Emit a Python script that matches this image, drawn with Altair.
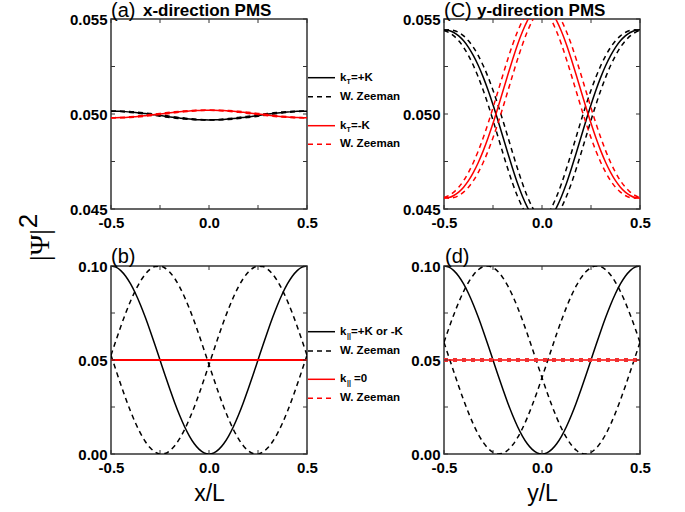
import altair as alt
import pandas as pd

# ---------------- data ----------------
X = [-0.5, -0.475, -0.45, -0.425, -0.4, -0.375, -0.35, -0.325, -0.3, -0.275,
     -0.25, -0.225, -0.2, -0.175, -0.15, -0.125, -0.1, -0.075, -0.05, -0.025,
     0.0, 0.025, 0.05, 0.075, 0.1, 0.125, 0.15, 0.175, 0.2, 0.225,
     0.25, 0.275, 0.3, 0.325, 0.35, 0.375, 0.4, 0.425, 0.45, 0.475, 0.5]
XE = [-0.5, 0.5]

XT = [-0.5, -0.25, 0.0, 0.25, 0.5]
XL = [-0.5, 0.0, 0.5]
YT_TOP = [0.045, 0.0475, 0.05, 0.0525, 0.055]
YL_TOP = [0.045, 0.05, 0.055]
YT_BOT = [0.0, 0.025, 0.05, 0.075, 0.1]
YL_BOT = [0.0, 0.05, 0.1]

# (a) x-direction PMS
a_black = [0.050150, 0.050147, 0.050139, 0.050125, 0.050106, 0.050083, 0.050055, 0.050024, 0.049991, 0.049956,
           0.049920, 0.049884, 0.049849, 0.049816, 0.049785, 0.049757, 0.049734, 0.049715, 0.049701, 0.049693,
           0.049690, 0.049693, 0.049701, 0.049715, 0.049734, 0.049757, 0.049785, 0.049816, 0.049849, 0.049884,
           0.049920, 0.049956, 0.049991, 0.050024, 0.050055, 0.050083, 0.050106, 0.050125, 0.050139, 0.050147, 0.050150]
a_black_z1 = [0.050147, 0.050139, 0.050125, 0.050106, 0.050083, 0.050055, 0.050024, 0.049991, 0.049956, 0.049920,
              0.049884, 0.049849, 0.049816, 0.049785, 0.049757, 0.049734, 0.049715, 0.049701, 0.049693, 0.049690,
              0.049693, 0.049701, 0.049715, 0.049734, 0.049757, 0.049785, 0.049816, 0.049849, 0.049884, 0.049920,
              0.049956, 0.049991, 0.050024, 0.050055, 0.050083, 0.050106, 0.050125, 0.050139, 0.050147, 0.050150, 0.050147]
a_black_z2 = [0.050147, 0.050150, 0.050147, 0.050139, 0.050125, 0.050106, 0.050083, 0.050055, 0.050024, 0.049991,
              0.049956, 0.049920, 0.049884, 0.049849, 0.049816, 0.049785, 0.049757, 0.049734, 0.049715, 0.049701,
              0.049693, 0.049690, 0.049693, 0.049701, 0.049715, 0.049734, 0.049757, 0.049785, 0.049816, 0.049849,
              0.049884, 0.049920, 0.049956, 0.049991, 0.050024, 0.050055, 0.050083, 0.050106, 0.050125, 0.050139, 0.050147]
a_red = [0.049800, 0.049802, 0.049810, 0.049822, 0.049838, 0.049859, 0.049882, 0.049909, 0.049938, 0.049969,
         0.050000, 0.050031, 0.050062, 0.050091, 0.050118, 0.050141, 0.050162, 0.050178, 0.050190, 0.050198,
         0.050200, 0.050198, 0.050190, 0.050178, 0.050162, 0.050141, 0.050118, 0.050091, 0.050062, 0.050031,
         0.050000, 0.049969, 0.049938, 0.049909, 0.049882, 0.049859, 0.049838, 0.049822, 0.049810, 0.049802, 0.049800]
a_red_z1 = [0.049802, 0.049810, 0.049822, 0.049838, 0.049859, 0.049882, 0.049909, 0.049938, 0.049969, 0.050000,
            0.050031, 0.050062, 0.050091, 0.050118, 0.050141, 0.050162, 0.050178, 0.050190, 0.050198, 0.050200,
            0.050198, 0.050190, 0.050178, 0.050162, 0.050141, 0.050118, 0.050091, 0.050062, 0.050031, 0.050000,
            0.049969, 0.049938, 0.049909, 0.049882, 0.049859, 0.049838, 0.049822, 0.049810, 0.049802, 0.049800, 0.049802]
a_red_z2 = [0.049802, 0.049800, 0.049802, 0.049810, 0.049822, 0.049838, 0.049859, 0.049882, 0.049909, 0.049938,
            0.049969, 0.050000, 0.050031, 0.050062, 0.050091, 0.050118, 0.050141, 0.050162, 0.050178, 0.050190,
            0.050198, 0.050200, 0.050198, 0.050190, 0.050178, 0.050162, 0.050141, 0.050118, 0.050091, 0.050062,
            0.050031, 0.050000, 0.049969, 0.049938, 0.049909, 0.049882, 0.049859, 0.049838, 0.049822, 0.049810, 0.049802]

# (c) y-direction PMS
c_black = [0.05443, 0.05440, 0.05429, 0.05411, 0.05385, 0.05351, 0.05307, 0.05255, 0.05194, 0.05125,
           0.05049, 0.04967, 0.04882, 0.04796, 0.04713, 0.04635, 0.04567, 0.04510, 0.04467, 0.04441,
           0.04432, 0.04441, 0.04467, 0.04510, 0.04567, 0.04635, 0.04713, 0.04796, 0.04882, 0.04967,
           0.05049, 0.05125, 0.05194, 0.05255, 0.05307, 0.05351, 0.05385, 0.05411, 0.05429, 0.05440, 0.05443]
c_black_z1 = [0.05440, 0.05429, 0.05411, 0.05385, 0.05351, 0.05307, 0.05255, 0.05194, 0.05125, 0.05049,
              0.04967, 0.04882, 0.04796, 0.04713, 0.04635, 0.04567, 0.04510, 0.04467, 0.04441, 0.04432,
              0.04441, 0.04467, 0.04510, 0.04567, 0.04635, 0.04713, 0.04796, 0.04882, 0.04967, 0.05049,
              0.05125, 0.05194, 0.05255, 0.05307, 0.05351, 0.05385, 0.05411, 0.05429, 0.05440, 0.05443, 0.05440]
c_black_z2 = [0.05440, 0.05443, 0.05440, 0.05429, 0.05411, 0.05385, 0.05351, 0.05307, 0.05255, 0.05194,
              0.05125, 0.05049, 0.04967, 0.04882, 0.04796, 0.04713, 0.04635, 0.04567, 0.04510, 0.04467,
              0.04441, 0.04432, 0.04441, 0.04467, 0.04510, 0.04567, 0.04635, 0.04713, 0.04796, 0.04882,
              0.04967, 0.05049, 0.05125, 0.05194, 0.05255, 0.05307, 0.05351, 0.05385, 0.05411, 0.05429, 0.05440]
c_red = [0.04557, 0.04560, 0.04571, 0.04589, 0.04615, 0.04649, 0.04693, 0.04745, 0.04806, 0.04875,
         0.04951, 0.05033, 0.05118, 0.05204, 0.05287, 0.05365, 0.05433, 0.05490, 0.05533, 0.05559,
         0.05568, 0.05559, 0.05533, 0.05490, 0.05433, 0.05365, 0.05287, 0.05204, 0.05118, 0.05033,
         0.04951, 0.04875, 0.04806, 0.04745, 0.04693, 0.04649, 0.04615, 0.04589, 0.04571, 0.04560, 0.04557]
c_red_z1 = [0.04560, 0.04571, 0.04589, 0.04615, 0.04649, 0.04693, 0.04745, 0.04806, 0.04875, 0.04951,
            0.05033, 0.05118, 0.05204, 0.05287, 0.05365, 0.05433, 0.05490, 0.05533, 0.05559, 0.05568,
            0.05559, 0.05533, 0.05490, 0.05433, 0.05365, 0.05287, 0.05204, 0.05118, 0.05033, 0.04951,
            0.04875, 0.04806, 0.04745, 0.04693, 0.04649, 0.04615, 0.04589, 0.04571, 0.04560, 0.04557, 0.04560]
c_red_z2 = [0.04560, 0.04557, 0.04560, 0.04571, 0.04589, 0.04615, 0.04649, 0.04693, 0.04745, 0.04806,
            0.04875, 0.04951, 0.05033, 0.05118, 0.05204, 0.05287, 0.05365, 0.05433, 0.05490, 0.05533,
            0.05559, 0.05568, 0.05559, 0.05533, 0.05490, 0.05433, 0.05365, 0.05287, 0.05204, 0.05118,
            0.05033, 0.04951, 0.04875, 0.04806, 0.04745, 0.04693, 0.04649, 0.04615, 0.04589, 0.04571, 0.04560]

# (b) x-direction, full range
b_black = [0.1, 0.099385, 0.097553, 0.09455, 0.09045, 0.085355, 0.07939, 0.0727, 0.06545, 0.05782,
           0.05, 0.04218, 0.03455, 0.0273, 0.02061, 0.014645, 0.00955, 0.00545, 0.002447, 0.000615,
           0.0, 0.000615, 0.002447, 0.00545, 0.00955, 0.014645, 0.02061, 0.0273, 0.03455, 0.04218,
           0.05, 0.05782, 0.06545, 0.0727, 0.07939, 0.085355, 0.09045, 0.09455, 0.097553, 0.099385, 0.1]
b_black_z1 = [0.05251, 0.06028, 0.06786, 0.07495, 0.08138, 0.08709, 0.09188, 0.09563, 0.09827, 0.09972,
              0.09994, 0.09893, 0.09672, 0.09335, 0.08892, 0.08353, 0.07733, 0.07046, 0.06304, 0.05533,
              0.04749, 0.03972, 0.03214, 0.02505, 0.01862, 0.01291, 0.00812, 0.00437, 0.00173, 0.00028,
              0.00006, 0.00107, 0.00328, 0.00665, 0.01108, 0.01647, 0.02267, 0.02954, 0.03696, 0.04467, 0.05251]
b_black_z2 = [0.05251, 0.04467, 0.03696, 0.02954, 0.02267, 0.01647, 0.01108, 0.00665, 0.00328, 0.00107,
              0.00006, 0.00028, 0.00173, 0.00437, 0.00812, 0.01291, 0.01862, 0.02505, 0.03214, 0.03972,
              0.04749, 0.05533, 0.06304, 0.07046, 0.07733, 0.08353, 0.08892, 0.09335, 0.09672, 0.09893,
              0.09994, 0.09972, 0.09827, 0.09563, 0.09188, 0.08709, 0.08138, 0.07495, 0.06786, 0.06028, 0.05251]
b_red = [0.05, 0.05]
b_red_z = [0.05, 0.05]

# (d) y-direction, full range
d_black = [0.1, 0.099385, 0.097553, 0.09455, 0.09045, 0.085355, 0.07939, 0.0727, 0.06545, 0.05782,
           0.05, 0.04218, 0.03455, 0.0273, 0.02061, 0.014645, 0.00955, 0.00545, 0.002447, 0.000615,
           0.0, 0.000615, 0.002447, 0.00545, 0.00955, 0.014645, 0.02061, 0.0273, 0.03455, 0.04218,
           0.05, 0.05782, 0.06545, 0.0727, 0.07939, 0.085355, 0.09045, 0.09455, 0.097553, 0.099385, 0.1]
d_black_z1 = [0.05937, 0.06694, 0.07409, 0.08065, 0.08645, 0.09135, 0.09524, 0.09802, 0.09961, 0.09998,
              0.09911, 0.09704, 0.09382, 0.08951, 0.08422, 0.07810, 0.07129, 0.06395, 0.05627, 0.04843,
              0.04063, 0.03306, 0.02591, 0.01935, 0.01355, 0.00865, 0.00476, 0.00198, 0.00039, 0.00002,
              0.00089, 0.00296, 0.00618, 0.01049, 0.01578, 0.02190, 0.02871, 0.03605, 0.04373, 0.05157, 0.05937]
d_black_z2 = [0.05937, 0.05157, 0.04373, 0.03605, 0.02871, 0.02190, 0.01578, 0.01049, 0.00618, 0.00296,
              0.00089, 0.00002, 0.00039, 0.00198, 0.00476, 0.00865, 0.01355, 0.01935, 0.02591, 0.03306,
              0.04063, 0.04843, 0.05627, 0.06395, 0.07129, 0.07810, 0.08422, 0.08951, 0.09382, 0.09704,
              0.09911, 0.09998, 0.09961, 0.09802, 0.09524, 0.09135, 0.08645, 0.08065, 0.07409, 0.06694, 0.05937]
d_red = [0.05, 0.05]
d_red_z = [0.05, 0.05]

# ---------------- styling ----------------
FONT = "Liberation Sans"
FRAME = "#333333"
BLACK = "#000000"
RED = "#ff0000"
DASH = [5, 4]
W = 196
H_TOP = 190
H_BOT = 188

XSCALE = alt.Scale(domain=[-0.5, 0.5], nice=False, zero=False)


def text_layer(s, x, y, size, weight="bold", font=FONT, align="left",
               baseline="alphabetic", angle=None):
    kw = dict(align=align, baseline=baseline, fontSize=size, fontWeight=weight,
              font=font, color="black")
    if angle is not None:
        kw["angle"] = angle
    return alt.Chart(pd.DataFrame({"t": [s]})).mark_text(**kw).encode(
        x=alt.value(x), y=alt.value(y), text="t:N")


def legend_line(x1, x2, y, color, dashed):
    kw = dict(color=color, strokeWidth=1.5)
    if dashed:
        kw["strokeDash"] = DASH
    return alt.Chart(pd.DataFrame({"k": [0]})).mark_rule(**kw).encode(
        x=alt.value(x1), x2=alt.value(x2), y=alt.value(y))


def panel(curves, ydom, yticks, ylabels, yfmt, h, extras, xtitle=None):
    yscale = alt.Scale(domain=ydom, nice=False, zero=False)

    xkw = dict(values=XL,
               labelExpr="datum.value < 0 ? '-' + format(-datum.value, '.1f') : format(datum.value, '.1f')",
               ticks=False, domain=False, grid=False,
               labelFont=FONT, labelFontSize=15, labelFontWeight="bold",
               labelColor="black", labelPadding=6, labelFlush=False,
               labelOverlap=False)
    if xtitle:
        xkw.update(title=xtitle, titleFont=FONT, titleFontSize=23,
                   titleFontWeight="normal", titleColor="black", titleY=46,
                   titleBaseline="alphabetic")
    else:
        xkw.update(title="")
    ykw = dict(values=ylabels, format=yfmt, ticks=False,
               domain=False, grid=False, labelFont=FONT, labelFontSize=15,
               labelFontWeight="bold", labelColor="black", labelPadding=4,
               labelFlush=False, labelOverlap=False, title="")

    def X_():
        return alt.X("x:Q", scale=XSCALE, axis=alt.Axis(**xkw))

    def Y_():
        return alt.Y("y:Q", scale=yscale, axis=alt.Axis(**ykw))

    layers = []
    for name, xs, ys, color, dash, width in curves:
        df = pd.DataFrame({"x": xs, "y": ys})
        kw = dict(clip=True, interpolate="monotone", color=color, strokeWidth=width)
        if dash is not None:
            kw["strokeDash"] = dash
        layers.append(alt.Chart(df).mark_line(**kw).encode(x=X_(), y=Y_()))

    tx = pd.DataFrame({"x": XT})
    ty = pd.DataFrame({"y": yticks})
    layers.append(alt.Chart(tx).mark_rule(color=FRAME, strokeWidth=1).encode(
        x=X_(), y=alt.value(h), y2=alt.value(h - 4)))
    layers.append(alt.Chart(tx).mark_rule(color=FRAME, strokeWidth=1).encode(
        x=X_(), y=alt.value(0), y2=alt.value(4)))
    layers.append(alt.Chart(ty).mark_rule(color=FRAME, strokeWidth=1).encode(
        y=Y_(), x=alt.value(0), x2=alt.value(4)))
    layers.append(alt.Chart(ty).mark_rule(color=FRAME, strokeWidth=1).encode(
        y=Y_(), x=alt.value(W), x2=alt.value(W - 4)))

    return alt.layer(*layers, *extras).properties(width=W, height=h)


# ---------------- panels ----------------
extras_a = [
    text_layer("(a)", 0, -2, 20, weight="normal"),
    text_layer("x-direction PMS", 32, -3, 17),
    legend_line(197, 224, 58.7, BLACK, False),
    legend_line(197, 224, 77.7, BLACK, True),
    legend_line(197, 224, 106.7, RED, False),
    legend_line(197, 224, 125.3, RED, True),
    text_layer("k", 229, 58.7, 11.5, baseline="middle"),
    text_layer("T", 235.5, 62.5, 7, baseline="middle"),
    text_layer("=+K", 240, 58.7, 11.5, baseline="middle"),
    text_layer("W. Zeeman", 229, 77.7, 11.5, baseline="middle"),
    text_layer("k", 229, 106.7, 11.5, baseline="middle"),
    text_layer("T", 235.5, 110.5, 7, baseline="middle"),
    text_layer("=-K", 240, 106.7, 11.5, baseline="middle"),
    text_layer("W. Zeeman", 229, 125.3, 11.5, baseline="middle"),
    text_layer("|Ψ|", -62, 226, 28, weight="normal", font="Liberation Serif",
               align="center", angle=270),
    text_layer("2", -74, 202, 26, weight="normal", align="center", angle=270),
]
pa = panel([
    ("k1", X, a_black_z1, BLACK, DASH, 1.5),
    ("k2", X, a_black_z2, BLACK, DASH, 1.5),
    ("k0", X, a_black, BLACK, None, 1.5),
    ("r1", X, a_red_z1, RED, DASH, 1.5),
    ("r2", X, a_red_z2, RED, DASH, 1.5),
    ("r0", X, a_red, RED, None, 1.5),
], [0.045, 0.055], YT_TOP, YL_TOP, ".3f", H_TOP, extras_a)

extras_c = [
    text_layer("(C)", 0, -2, 20, weight="normal"),
    text_layer("y-direction PMS", 33, -3, 17),
]
pc = panel([
    ("k1", X, c_black_z1, BLACK, DASH, 1.5),
    ("k2", X, c_black_z2, BLACK, DASH, 1.5),
    ("k0", X, c_black, BLACK, None, 1.5),
    ("r1", X, c_red_z1, RED, DASH, 1.5),
    ("r2", X, c_red_z2, RED, DASH, 1.5),
    ("r0", X, c_red, RED, None, 1.5),
], [0.045, 0.055], YT_TOP, YL_TOP, ".3f", H_TOP, extras_c)

extras_b = [
    text_layer("(b)", 0, -3, 20, weight="normal"),
    legend_line(197, 224, 65.7, BLACK, False),
    legend_line(197, 224, 85, BLACK, True),
    legend_line(197, 224, 113.3, RED, False),
    legend_line(197, 224, 132.3, RED, True),
    text_layer("k", 229, 65.7, 11.5, baseline="middle"),
    text_layer("||", 236, 69.5, 7, baseline="middle"),
    text_layer("=+K or -K", 240, 65.7, 11.5, baseline="middle"),
    text_layer("W. Zeeman", 229, 85, 11.5, baseline="middle"),
    text_layer("k", 229, 113.3, 11.5, baseline="middle"),
    text_layer("||", 236, 117.1, 7, baseline="middle"),
    text_layer("=0", 243, 113.3, 11.5, baseline="middle"),
    text_layer("W. Zeeman", 229, 132.3, 11.5, baseline="middle"),
]
pb = panel([
    ("k0", X, b_black, BLACK, None, 1.5),
    ("k1", X, b_black_z1, BLACK, DASH, 1.5),
    ("k2", X, b_black_z2, BLACK, DASH, 1.5),
    ("r1", XE, b_red_z, RED, DASH, 1.5),
    ("r0", XE, b_red, RED, None, 2),
], [0.0, 0.1], YT_BOT, YL_BOT, ".2f", H_BOT, extras_b, xtitle="x/L")

extras_d = [
    text_layer("(d)", 1, -3, 20, weight="normal"),
]
pdd = panel([
    ("k0", X, d_black, BLACK, None, 1.5),
    ("k1", X, d_black_z1, BLACK, DASH, 1.5),
    ("k2", X, d_black_z2, BLACK, DASH, 1.5),
    ("r0", XE, d_red, RED, None, 1.5),
    ("r1", XE, d_red_z, "#f03030", [4, 5], 4),
], [0.0, 0.1], YT_BOT, YL_BOT, ".2f", H_BOT, extras_d, xtitle="y/L")

chart = alt.concat(
    pa, pc, pb, pdd, columns=2, spacing={"row": 57, "column": 137}, bounds="flush"
).properties(
    autosize=alt.AutoSizeParams(type="none"),
    padding={"left": 111, "top": 19, "right": 574, "bottom": 493},
).configure_view(stroke=FRAME, strokeWidth=1.5)

chart.save("out.html", embed_options={"renderer": "svg", "actions": False})
